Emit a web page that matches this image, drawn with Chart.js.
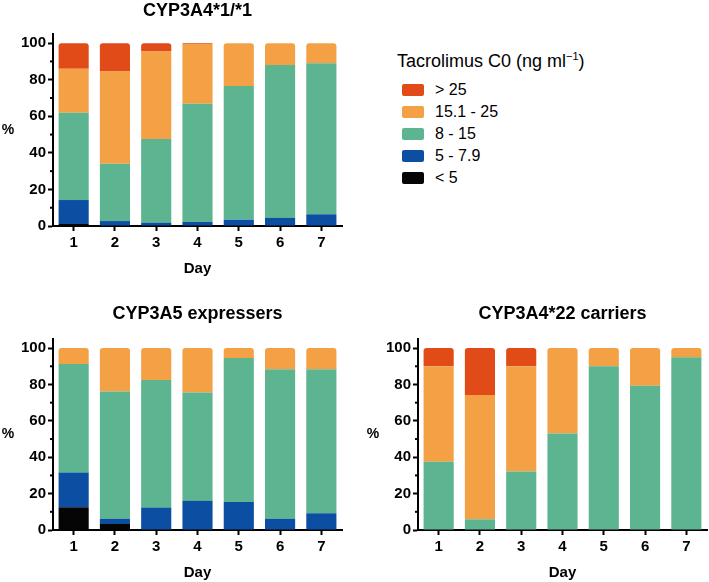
<!DOCTYPE html>
<html lang="en">
<head>
    <meta charset="UTF-8">
    <title>Tacrolimus C0 by genotype</title>
    <script src="https://cdn.jsdelivr.net/npm/chart.js"></script>
    <style>
        body {
            margin: 0;
            background: #fff;
            font-family: Arial, "Liberation Sans", sans-serif;
        }
        .wrap {
            position: relative;
            width: 709px;
            height: 582px;
        }
        canvas {
            position: absolute;
        }
        #legend {
            position: absolute;
            left: 397px;
            top: 49px;
            color: #000;
        }
        #legend .ttl {
            font-size: 18px;
            line-height: 24px;
            height: 24px;
            margin-bottom: 6px;
        }
        #legend .ttl sup {
            font-size: 11px;
            line-height: 0;
            vertical-align: 7px;
        }
        #legend .row {
            position: relative;
            height: 22px;
            font-size: 16px;
            line-height: 22px;
        }
        #legend .sw {
            position: absolute;
            left: 5px;
            top: 5px;
            width: 22px;
            height: 12px;
            border-radius: 2px;
        }
        #legend .lab {
            position: absolute;
            left: 38px;
            top: 0;
        }
    </style>
</head>
<body>
<div class="wrap">
    <canvas id="cTop" width="350" height="278" style="left:0;top:0"></canvas>
    <canvas id="cA5" width="350" height="292" style="left:0;top:290px"></canvas>
    <canvas id="c22" width="349" height="292" style="left:360px;top:290px"></canvas>
    <div id="legend"></div>
</div>

<script>
    const days = ['1', '2', '3', '4', '5', '6', '7'];
    const bands = ['< 5', '5 - 7.9', '8 - 15', '15.1 - 25', '> 25'];
    const bandColors = ['#050505', '#0b4ea2', '#5cb590', '#f4a145', '#e04b18'];
    const yTicks = [0, 20, 40, 60, 80, 100];
    const minorTicks = [10, 30, 50, 70, 90];

    // CYP3A4*1/*1 (% of patients per band)
    const wtLt5   = [1.1, 0, 0, 0, 0, 0, 0];
    const wt5to8  = [13.1, 2.7, 1.8, 2.2, 3.5, 4.4, 6.4];
    const wt8to15 = [47.8, 31.3, 45.8, 64.6, 73.1, 83.7, 82.6];
    const wt15to25 = [24, 50.5, 47.8, 32.7, 23.4, 11.9, 11];
    const wtGt25  = [14, 15.5, 4.6, 0.5, 0, 0, 0];

    // CYP3A5 expressers
    const a5Lt5   = [12.5, 3.3, 0, 0, 0, 0, 0];
    const a5to8   = [19.1, 2.9, 12.3, 16, 15.4, 6.2, 9.2];
    const a8to15  = [59.6, 69.9, 70.1, 59.6, 79.1, 82.2, 79.2];
    const a15to25 = [8.8, 23.9, 17.6, 24.4, 5.5, 11.6, 11.6];
    const a5Gt25  = [0, 0, 0, 0, 0, 0, 0];

    // CYP3A4*22 carriers
    const c22Lt5   = [0, 0, 0, 0, 0, 0, 0];
    const c22to8   = [0, 0, 0, 0, 0, 0, 0];
    const c22to15  = [37.5, 5.9, 32.2, 53, 90, 79.3, 95];
    const c22to25  = [52.5, 68.3, 57.8, 47, 10, 20.7, 5];
    const c22Gt25  = [10, 25.8, 10, 0, 0, 0, 0];

    const FONT = 'Arial, "Liberation Sans", sans-serif';
    Chart.defaults.font.family = FONT;
    Chart.defaults.color = '#000';

    // panel title, the horizontal "%" and the short minor ticks on the y axis
    const panelDecor = {
        id: 'panelDecor',
        afterDraw(chart, args, opts) {
            const ctx = chart.ctx;
            const a = chart.chartArea;
            const y = chart.scales.y;
            ctx.save();
            ctx.fillStyle = '#000';
            ctx.textAlign = 'center';
            ctx.textBaseline = 'middle';
            ctx.font = 'bold 18px ' + FONT;
            ctx.fillText(opts.title, (a.left + a.right) / 2, opts.titleY);
            ctx.font = 'bold 14px ' + FONT;
            ctx.fillText('%', opts.pctX, (a.top + a.bottom) / 2);
            ctx.strokeStyle = '#000';
            ctx.lineWidth = 2;
            for (const v of minorTicks) {
                const py = y.getPixelForValue(v);
                ctx.beginPath();
                ctx.moveTo(a.left - 3, py);
                ctx.lineTo(a.left, py);
                ctx.stroke();
            }
            ctx.restore();
        }
    };

    function makePanel(id, series, cfg) {
        const datasets = series.map((data, i) => ({
            label: bands[i],
            data: data,
            backgroundColor: bandColors[i],
            borderWidth: 0,
            borderRadius: 3,
            barPercentage: 0.73,
            categoryPercentage: 1
        }));
        return new Chart(document.getElementById(id), {
            type: 'bar',
            data: { labels: days, datasets: datasets },
            plugins: [panelDecor],
            options: {
                responsive: false,
                animation: false,
                layout: { padding: { top: cfg.top, right: cfg.right, left: 0, bottom: 0 } },
                plugins: {
                    legend: { display: false },
                    tooltip: { enabled: false },
                    panelDecor: { title: cfg.title, titleY: cfg.titleY, pctX: cfg.pctX }
                },
                scales: {
                    x: {
                        stacked: true,
                        offset: true,
                        grid: {
                            offset: false,
                            drawOnChartArea: false,
                            tickLength: 5,
                            tickWidth: 2,
                            tickColor: '#000'
                        },
                        border: { color: '#000', width: 2 },
                        ticks: { padding: 3, font: { size: 15, weight: 'bold' }, color: '#000' },
                        title: {
                            display: true,
                            text: 'Day',
                            font: { size: 15, weight: 'bold' },
                            color: '#000',
                            padding: { top: 0, bottom: cfg.dayPad }
                        },
                        afterFit: s => { s.height = 52; }
                    },
                    y: {
                        stacked: true,
                        min: 0,
                        max: 105,
                        grid: {
                            drawOnChartArea: false,
                            tickLength: 5,
                            tickWidth: 2,
                            tickColor: '#000'
                        },
                        border: { color: '#000', width: 2 },
                        ticks: { stepSize: 20, padding: 2, font: { size: 15, weight: 'bold' }, color: '#000' },
                        afterBuildTicks: s => { s.ticks = yTicks.map(v => ({ value: v })); },
                        afterFit: s => { s.width = cfg.yWidth; }
                    }
                }
            }
        });
    }

    makePanel('cTop', [wtLt5, wt5to8, wt8to15, wt15to25, wtGt25],
        { title: 'CYP3A4*1/*1', titleY: 11, pctX: 8, top: 34, right: 8, yWidth: 53, dayPad: 0 });
    makePanel('cA5', [a5Lt5, a5to8, a8to15, a15to25, a5Gt25],
        { title: 'CYP3A5 expressers', titleY: 24, pctX: 8, top: 49, right: 8, yWidth: 53, dayPad: 0 });
    makePanel('c22', [c22Lt5, c22to8, c22to15, c22to25, c22Gt25],
        { title: 'CYP3A4*22 carriers', titleY: 24, pctX: 13, top: 49, right: 2, yWidth: 58, dayPad: 0 });

    // legend, top band first
    const legend = document.getElementById('legend');
    let html = '<div class="ttl">Tacrolimus C0 (ng ml<sup>\u22121</sup>)</div>';
    for (let i = bands.length - 1; i >= 0; i--) {
        html += '<div class="row"><span class="sw" style="background:' + bandColors[i] + '"></span>' +
                '<span class="lab">' + bands[i] + '</span></div>';
    }
    legend.innerHTML = html;
</script>
</body>
</html>
